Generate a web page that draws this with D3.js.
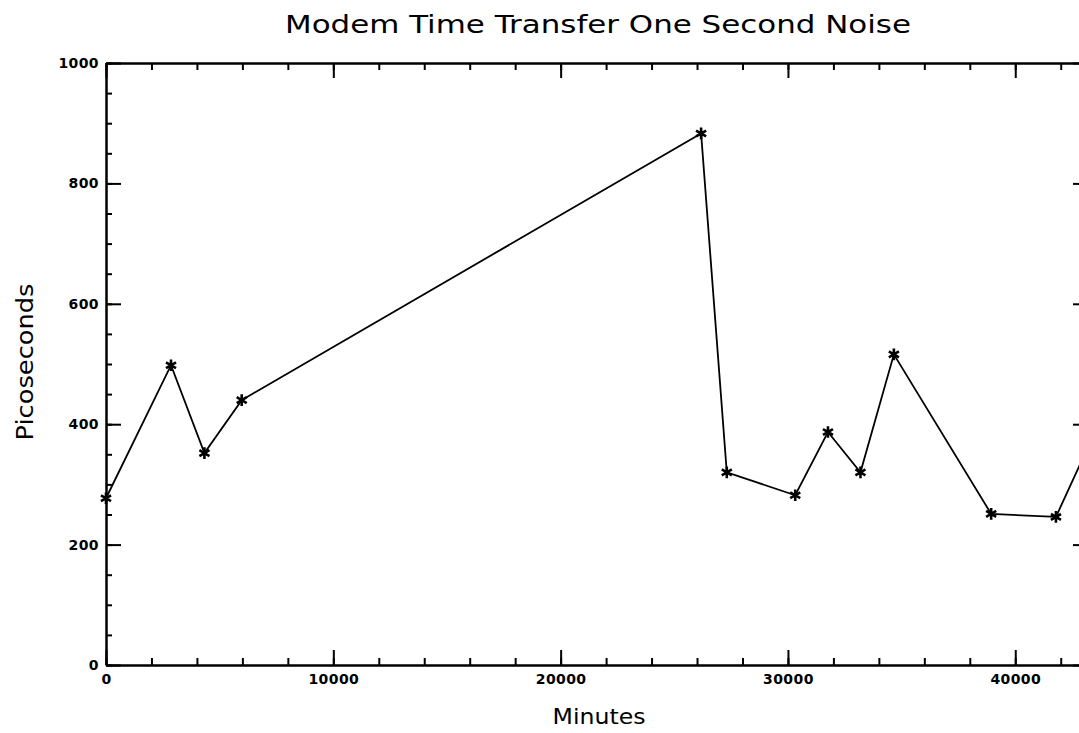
<!DOCTYPE html>
<html>
<head>
<meta charset="utf-8">
<script src="https://cdn.jsdelivr.net/npm/d3@7"></script>
<style>
  body { margin: 0; background: #fff; }
  svg { display: block; }
  .tick text { font-family: "DejaVu Sans", sans-serif; font-size: 14px; font-weight: bold; letter-spacing: 0.4px; fill: #000; }
  .axis path, .axis line { stroke: #000; stroke-width: 2; }
</style>
</head>
<body>
<svg id="chart" width="1079" height="733"></svg>
<script>
(() => {

    // elapsed time in minutes, noise in picoseconds
    const minutes = [0, 2860, 4330, 5970, 26180, 27310, 30320, 31760, 33190, 34660, 38940, 41790, 43100];
    const picoseconds = [277, 498, 352, 440, 883, 320, 282, 387, 320, 516, 251, 246, 354];

    const xTicks = [0, 10000, 20000, 30000, 40000];
    const yTicks = [0, 200, 400, 600, 800, 1000];

    const svg = d3.select("svg#chart");
    const margin = {left: 106, top: 63};
    const width = 982;   // runs past the window edge, as in the scan
    const height = 602;

    const x = d3.scaleLinear().domain([0, 43200]).range([0, width]);
    const y = d3.scaleLinear().domain([0, 1000]).range([height, 0]);

    const g = svg.append("g")
        .attr("transform", `translate(${margin.left}, ${margin.top})`);

    const xMinor = d3.range(0, 43201, 2000);
    const yMinor = d3.range(0, 1001, 50);

    // bottom
    g.append("g").attr("class", "axis")
        .attr("transform", `translate(0, ${height})`)
        .call(d3.axisBottom(x).tickValues(xMinor).tickSize(-7).tickSizeOuter(0).tickFormat(""));
    g.append("g").attr("class", "axis")
        .attr("transform", `translate(0, ${height})`)
        .call(d3.axisBottom(x).tickValues(xTicks).tickSize(-15).tickSizeOuter(0).tickPadding(9).tickFormat(d3.format("d")));

    // top
    g.append("g").attr("class", "axis")
        .call(d3.axisTop(x).tickValues(xMinor).tickSize(-7).tickSizeOuter(0).tickFormat(""));
    g.append("g").attr("class", "axis")
        .call(d3.axisTop(x).tickValues(xTicks).tickSize(-15).tickSizeOuter(0).tickFormat(""));

    // left
    g.append("g").attr("class", "axis")
        .call(d3.axisLeft(y).tickValues(yMinor).tickSize(-6).tickSizeOuter(0).tickFormat(""));
    g.append("g").attr("class", "axis")
        .call(d3.axisLeft(y).tickValues(yTicks).tickSize(-15).tickSizeOuter(0).tickPadding(7).tickFormat(d3.format("d")));

    // right
    g.append("g").attr("class", "axis")
        .attr("transform", `translate(${width}, 0)`)
        .call(d3.axisRight(y).tickValues(yMinor).tickSize(-6).tickSizeOuter(0).tickFormat(""));
    g.append("g").attr("class", "axis")
        .attr("transform", `translate(${width}, 0)`)
        .call(d3.axisRight(y).tickValues(yTicks).tickSize(-15).tickSizeOuter(0).tickFormat(""));

    const points = minutes.map((m, i) => ({m, ps: picoseconds[i]}));

    const line = d3.line()
        .x(d => x(d.m))
        .y(d => y(d.ps));

    g.append("path")
        .datum(points)
        .attr("d", line)
        .style("fill", "none")
        .style("stroke", "#000")
        .style("stroke-width", 1.8);

    // asterisk markers
    g.selectAll("path.marker")
        .data(points)
        .enter()
        .append("path")
        .attr("class", "marker")
        .attr("transform", d => `translate(${x(d.m)}, ${y(d.ps)})`)
        .attr("d", d3.symbol(d3.symbolAsterisk, 95))
        .style("fill", "none")
        .style("stroke", "#000")
        .style("stroke-width", 2.6);

    // labels
    svg.append("text")
        .attr("x", 598)
        .attr("y", 33)
        .attr("text-anchor", "middle")
        .attr("textLength", 626)
        .attr("lengthAdjust", "spacingAndGlyphs")
        .style("font-family", "DejaVu Sans, sans-serif")
        .style("font-size", "25px")
        .style("fill", "#000")
        .text("Modem Time Transfer One Second Noise");

    svg.append("text")
        .attr("transform", "translate(33, 362) rotate(-90)")
        .attr("text-anchor", "middle")
        .attr("textLength", 157)
        .attr("lengthAdjust", "spacingAndGlyphs")
        .style("font-family", "DejaVu Sans, sans-serif")
        .style("font-size", "23px")
        .style("fill", "#000")
        .text("Picoseconds");

    svg.append("text")
        .attr("x", 599)
        .attr("y", 724)
        .attr("text-anchor", "middle")
        .attr("textLength", 93)
        .attr("lengthAdjust", "spacingAndGlyphs")
        .style("font-family", "DejaVu Sans, sans-serif")
        .style("font-size", "21px")
        .style("fill", "#000")
        .text("Minutes");

})();
</script>
</body>
</html>
